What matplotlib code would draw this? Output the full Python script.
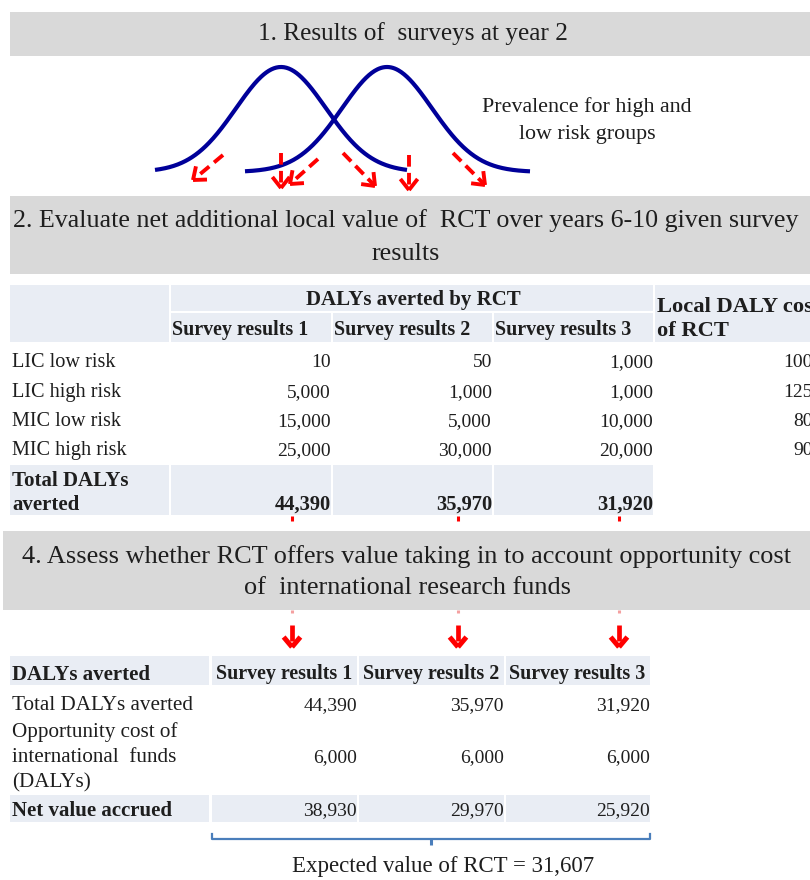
import numpy as np
import matplotlib
matplotlib.use("Agg")
import matplotlib.pyplot as plt
from matplotlib.patches import Rectangle

# ---------------- data ----------------
banner1 = ["1. Results of  surveys at year 2"]
banner2 = ["2. Evaluate net additional local value of  RCT over years 6-10 given survey", "results"]
banner4 = ["4. Assess whether RCT offers value taking in to account opportunity cost",
           "of  international research funds"]
curve_label = ["Prevalence for high and", "low risk groups"]

curve_centers = [281, 387]
curve_sigma = [45, 45]
curve_span = [(155, 407), (245, 530)]
curve_height = 105

survey_labels = ["Survey results 1", "Survey results 2", "Survey results 3"]
risk_groups = ["LIC low risk", "LIC high risk", "MIC low risk", "MIC high risk"]
dalys_survey1 = [10, 5000, 15000, 25000]
dalys_survey2 = [50, 1000, 5000, 30000]
dalys_survey3 = [1000, 1000, 10000, 20000]
local_daly_cost = [100, 125, 80, 90]
total_dalys = [44390, 35970, 31920]
opportunity_cost = [6000, 6000, 6000]
net_value = [38930, 29970, 25920]
expected_value = 31607

# ---------------- styling ----------------
SERIF = ["Liberation Serif", "DejaVu Serif"]
TXT = "#1e1e1e"
GRAY = "#d9d9d9"
CELL = "#e9edf4"
NAVY = "#000099"
RED = "#ff0000"
DY = 2.5

fig = plt.figure(figsize=(8.1, 8.8), dpi=100)
ax = fig.add_axes([0, 0, 1, 1])
ax.set_xlim(0, 810)
ax.set_ylim(880, 0)
ax.axis("off")
renderer = fig.canvas.get_renderer()


def txt(x, y, s, size=14, ha="left", bold=False, **kw):
    return ax.text(x, y + DY, s, fontsize=size, ha=ha, va="center", family=SERIF,
                   color=TXT, fontweight="bold" if bold else "normal", **kw)


def fit_size(s, width, bold=False):
    t = ax.text(0, 0, s, fontsize=10, family=SERIF,
                fontweight="bold" if bold else "normal")
    w = t.get_window_extent(renderer).width
    t.remove()
    return 10 * width / w


def rect(x0, y0, x1, y1, color):
    ax.add_patch(Rectangle((x0, y0), x1 - x0, y1 - y0, facecolor=color,
                           edgecolor="none", zorder=0))


def chevron(tip, direction, length, spread_deg, lw, color):
    d = np.array(direction, float)
    d /= np.linalg.norm(d)
    for sgn in (1, -1):
        a = np.deg2rad(sgn * spread_deg)
        rot = np.array([[np.cos(a), -np.sin(a)], [np.sin(a), np.cos(a)]])
        back = rot @ (-d) * length
        ax.plot([tip[0], tip[0] + back[0]], [tip[1], tip[1] + back[1]],
                color=color, lw=lw, solid_capstyle="butt", solid_joinstyle="miter")


# ---------------- banner 1 + curves ----------------
rect(10, 12, 810, 56, GRAY)
s1 = fit_size(banner1[0], 310)
txt(413, 31, banner1[0], size=s1, ha="center")

base = 172
for c, sg, (a, b) in zip(curve_centers, curve_sigma, curve_span):
    xs = np.linspace(a, b, 300)
    ys = base - curve_height * np.exp(-(xs - c) ** 2 / (2 * sg ** 2))
    ax.plot(xs, ys, color=NAVY, lw=3.0, solid_capstyle="butt")

arrows1 = [((223, 155), (193, 180)), ((281, 153), (281, 188)), ((318, 159), (290, 184)),
           ((343, 153), (375, 186)), ((409, 155), (409, 190)), ((453, 153), (485, 185))]
for (x0, y0), (x1, y1) in arrows1:
    ax.plot([x0, x1], [y0, y1], color=RED, lw=2.8, ls=(0, (3.0, 1.6)))
    chevron((x1, y1), (x1 - x0, y1 - y0), 14, 38, 2.8, RED)

ls1 = fit_size(curve_label[0], 210)
txt(587, 105, curve_label[0], size=ls1, ha="center")
txt(587, 132, curve_label[1], size=ls1, ha="center")

# ---------------- banner 2 ----------------
rect(10, 196, 810, 274, GRAY)
s2 = fit_size(banner2[0], 788)
txt(406, 218, banner2[0], size=s2, ha="center")
txt(406, 251, banner2[1], size=s2, ha="center")

# ---------------- table 1 ----------------
FL = 14.6   # labels
FN = 14.0   # numbers
FB = 15.0   # bold labels
FBN = 14.8  # bold numbers
colL = [(10, 169), (171, 331), (333, 492), (494, 653)]
rect(10, 285, 169, 342, CELL)
rect(171, 285, 653, 311, CELL)
for (a, b) in colL[1:]:
    rect(a, 313, b, 342, CELL)
rect(655, 285, 810, 342, CELL)
txt(413, 298, "DALYs averted by RCT", size=FB, ha="center", bold=True)
for (a, b), lab in zip(colL[1:], survey_labels):
    txt(a + 1, 328, lab, size=14.4, ha="left", bold=True)
txt(657, 304, "Local DALY cost", size=16.2, bold=True, clip_on=True)
txt(657, 328, "of RCT", size=16.2, bold=True)

row_y = [360, 390, 419, 448]
series = [dalys_survey1, dalys_survey2, dalys_survey3]
for i, (g, y) in enumerate(zip(risk_groups, row_y)):
    txt(12, y, g, size=FL)
    for (a, b), vals in zip(colL[1:], series):
        txt(b, y, f"{vals[i]:,}", size=FN, ha="right")
    txt(813, y, f"{local_daly_cost[i]:,}", size=FN, ha="right", clip_on=True)

for (a, b) in colL:
    rect(a, 465, b, 515, CELL)
txt(12, 478, "Total DALYs", size=FB, bold=True)
txt(12, 502, "averted", size=FB, bold=True)
for (a, b), v in zip(colL[1:], total_dalys):
    txt(b, 502, f"{v:,}", size=FBN, ha="right", bold=True)

arrow_x = [292, 458, 619]
for x in arrow_x:
    ax.plot([x, x], [516, 521], color=RED, lw=2.2, solid_capstyle="butt")
    ax.plot([x, x], [610, 613], color="#f4a0a0", lw=2.2, solid_capstyle="butt")

# ---------------- banner 4 ----------------
rect(3, 531, 810, 610, GRAY)
s4 = fit_size(banner4[0], 768)
txt(407, 554, banner4[0], size=s4, ha="center")
txt(407, 586, banner4[1], size=s4, ha="center")

for x in arrow_x:
    ax.plot([x, x], [625, 641], color=RED, lw=3.4, solid_capstyle="butt")
    chevron((x, 647), (0, 1), 13, 40, 3.6, RED)

# ---------------- table 2 ----------------
FL2 = 15.2
col2 = [(10, 209), (212, 357), (359, 504), (506, 650)]
for (a, b) in col2:
    rect(a, 656, b, 685, CELL)
    rect(a, 795, b, 822, CELL)
txt(12, 672, "DALYs averted", size=FB, bold=True)
for (a, b), lab in zip(col2[1:], survey_labels):
    txt(b - 5, 672, lab, size=14.4, ha="right", bold=True)

txt(12, 703, "Total DALYs averted", size=FL2)
for (a, b), v in zip(col2[1:], total_dalys):
    txt(b, 703, f"{v:,}", size=FN, ha="right")
txt(12, 730, "Opportunity cost of", size=FL2)
txt(12, 755, "international  funds", size=FL2)
txt(12, 780, "(DALYs)", size=FL2)
for (a, b), v in zip(col2[1:], opportunity_cost):
    txt(b, 755, f"{v:,}", size=FN, ha="right")
txt(12, 808, "Net value accrued", size=FB, bold=True)
for (a, b), v in zip(col2[1:], net_value):
    txt(b, 808, f"{v:,}", size=FN, ha="right")

# bracket
BL = "#4a7ebb"
ax.plot([212, 212, 650, 650], [834, 839, 839, 834], color=BL, lw=1.6)
ax.plot([431, 431], [839, 845], color=BL, lw=2.2, solid_capstyle="butt")
ev = f"Expected value of RCT = {expected_value:,}"
txt(443, 864, ev, size=fit_size(ev, 302), ha="center")

fig.savefig("out.png", dpi=100)
